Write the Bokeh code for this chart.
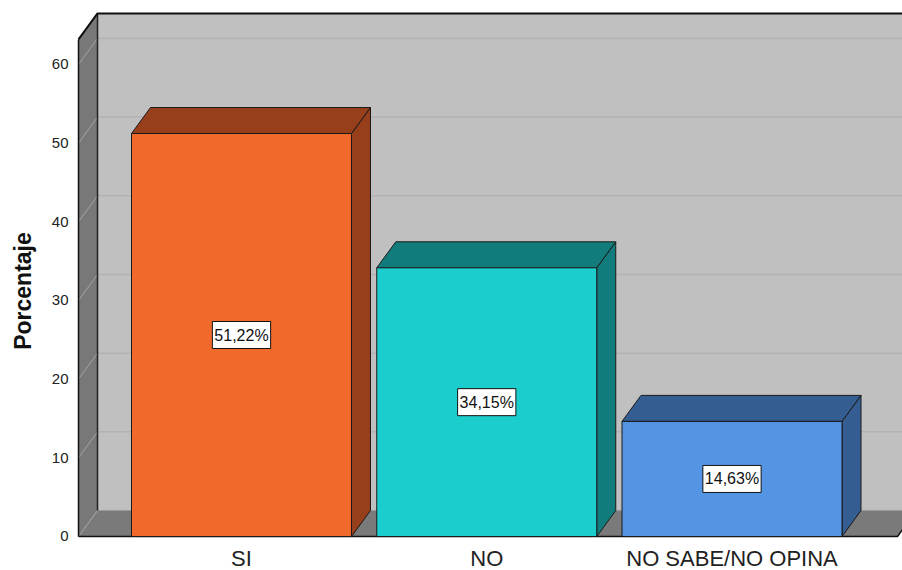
from bokeh.plotting import figure
from bokeh.models import Range1d, FixedTicker, ColumnDataSource
from bokeh.core.properties import value
from bokeh.embed import file_html
from bokeh.resources import INLINE

# ---- data ----
categories = ["SI", "NO", "NO SABE/NO OPINA"]
percent = [51.22, 34.15, 14.63]
value_labels = ["51,22%", "34,15%", "14,63%"]
front_colors = ["#f26a2b", "#1ccdcd", "#5495e3"]
dark_colors = ["#973f1a", "#127c7c", "#345e91"]
y_ticks = [0, 10, 20, 30, 40, 50, 60]
y_label = "Porcentaje"

# ---- geometry (styling of the pseudo-3D look) ----
BAR_W = 0.897
DX = 0.0775
DY = 3.305
X_LEFT = -0.6646
X_FLOOR_R = 2.6748
X_FAR = 3.2
WALL_TOP = 63.18
CAT_LABEL_Y = -2.75

p = figure(width=902, height=570, output_backend="svg", toolbar_location=None,
           x_range=Range1d(-0.6728, 2.6952), y_range=Range1d(-4.322, 66.73),
           min_border_left=76, min_border_right=0, min_border_top=11, min_border_bottom=0,
           background_fill_color="white", border_fill_color="white")
p.outline_line_color = None
p.grid.visible = False
p.xaxis.visible = False

# back wall
p.patch([X_LEFT + DX, X_FAR, X_FAR, X_LEFT + DX],
        [DY, DY, WALL_TOP + DY, WALL_TOP + DY], fill_color="#c0c0c0", line_color=None)
# back wall gridlines
for v in y_ticks:
    p.line([X_LEFT + DX, X_FAR], [v + DY, v + DY], line_color="#b2b2b2", line_width=1.5)
# floor
p.patch([X_LEFT, X_FLOOR_R, X_FLOOR_R + DX, X_LEFT + DX],
        [0, 0, DY, DY], fill_color="#7a7a7a", line_color=None)
p.line([X_LEFT + DX, X_FAR], [DY, DY], line_color="#9c9c9c", line_width=1)
# left wall
p.patch([X_LEFT, X_LEFT, X_LEFT + DX, X_LEFT + DX],
        [0, WALL_TOP, WALL_TOP + DY, DY], fill_color="#787878", line_color=None)
for v in y_ticks:
    p.line([X_LEFT, X_LEFT + DX], [v, v + DY], line_color="#a4a4a4", line_width=1)
# edges
p.line([X_LEFT, X_LEFT], [0, WALL_TOP], line_color="#111111", line_width=1.5)
p.line([X_LEFT + DX, X_LEFT + DX], [DY, WALL_TOP + DY], line_color="#222222", line_width=1.5)
p.line([X_LEFT, X_LEFT + DX, X_FAR], [WALL_TOP, WALL_TOP + DY, WALL_TOP + DY],
       line_color="#111111", line_width=2)
p.line([X_LEFT, X_FLOOR_R, X_FLOOR_R + DX], [0, 0, DY], line_color="#111111", line_width=1.5)

# bars
side_xs, side_ys, top_xs, top_ys, front_xs, front_ys = [], [], [], [], [], []
for i, v in enumerate(percent):
    l, r = i - BAR_W / 2, i + BAR_W / 2
    front_xs.append([l, r, r, l]); front_ys.append([0, 0, v, v])
    top_xs.append([l, r, r + DX, l + DX]); top_ys.append([v, v, v + DY, v + DY])
    side_xs.append([r, r + DX, r + DX, r]); side_ys.append([0, DY, v + DY, v])

p.patches(side_xs, side_ys, fill_color=dark_colors, line_color="#1a1a1a", line_width=1)
p.patches(top_xs, top_ys, fill_color=dark_colors, line_color="#1a1a1a", line_width=1)
p.patches(front_xs, front_ys, fill_color=front_colors, line_color="#1a1a1a", line_width=1)

idx = list(range(len(categories)))
src = ColumnDataSource(dict(x=idx, y=[v / 2 for v in percent], t=value_labels))
p.text(x="x", y="y", text="t", source=src, text_align="center",
       text_baseline="middle", text_font=value("Liberation Sans"), text_font_size="16px",
       text_color="#111111", background_fill_color="white",
       border_line_color="#111111", border_line_width=1,
       padding=dict(left=2, right=2, top=5, bottom=5))

# category labels (x axis)
cat_src = ColumnDataSource(dict(x=idx, y=[CAT_LABEL_Y] * len(categories), t=categories))
p.text(x="x", y="y", text="t", source=cat_src, text_align="center",
       text_baseline="middle", text_font=value("Liberation Sans"),
       text_font_size="22px", text_color="#222222")

# y axis
p.yaxis.ticker = FixedTicker(ticks=y_ticks)
p.yaxis.axis_line_color = None
p.yaxis.major_tick_line_color = None
p.yaxis.minor_tick_line_color = None
p.yaxis.major_tick_out = 0
p.yaxis.major_tick_in = 0
p.yaxis.major_label_standoff = 8
p.yaxis.major_label_text_font = "Liberation Sans"
p.yaxis.major_label_text_font_size = "15px"
p.yaxis.major_label_text_color = "#222222"
p.yaxis.axis_label = y_label
p.yaxis.axis_label_text_font = "Liberation Sans"
p.yaxis.axis_label_text_font_style = "bold"
p.yaxis.axis_label_text_font_size = "23px"
p.yaxis.axis_label_text_color = "#111111"
p.yaxis.axis_label_standoff = 13

open("out.html", "w").write(file_html(p, INLINE))
